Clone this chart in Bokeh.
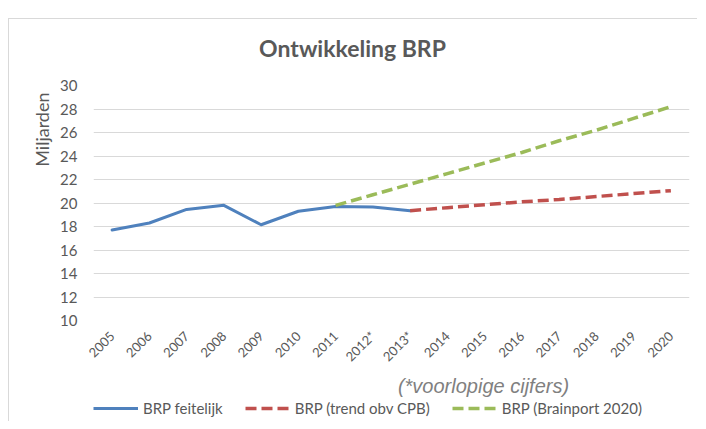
import math
from bokeh.plotting import figure
from bokeh.layouts import column
from bokeh.models import (FactorRange, Range1d, FixedTicker, Legend, LegendItem, Title, Label)
from bokeh.embed import file_html
from bokeh.resources import INLINE

# ---- data ----
years = ["2005", "2006", "2007", "2008", "2009", "2010", "2011", "2012*", "2013*",
         "2014", "2015", "2016", "2017", "2018", "2019", "2020"]
actual_years = ["2005", "2006", "2007", "2008", "2009", "2010", "2011", "2012*", "2013*"]
actual_values = [17.7, 18.3, 19.45, 19.8, 18.15, 19.3, 19.7, 19.65, 19.35]
trend_years = ["2013*", "2014", "2015", "2016", "2017", "2018", "2019", "2020"]
trend_values = [19.35, 19.6, 19.85, 20.1, 20.3, 20.55, 20.8, 21.05]
brainport_years = ["2011", "2012*", "2013*", "2014", "2015", "2016", "2017", "2018", "2019", "2020"]
brainport_values = [19.8, 20.7, 21.6, 22.5, 23.4, 24.3, 25.3, 26.2, 27.2, 28.2]
y_ticks = [10, 12, 14, 16, 18, 20, 22, 24, 26, 28, 30]

title_text = "Ontwikkeling BRP"
y_label = "Miljarden"
note_text = "(*voorlopige cijfers)"
series_names = ["BRP feitelijk", "BRP (trend obv CPB)", "BRP (Brainport 2020)"]

FONT = "Lato"
GRAY = "#595959"
COLORS = ["#4f81bd", "#c0504d", "#9bbb59"]
W = 688
NAN = float("nan")


def blank(height):
    f = figure(width=W, height=height, x_range=Range1d(0, 1), y_range=Range1d(0, 1),
               output_backend="svg", toolbar_location=None,
               min_border_left=0, min_border_right=0, min_border_top=0, min_border_bottom=0)
    f.axis.visible = False
    f.grid.visible = False
    f.outline_line_color = None
    f.border_fill_color = "white"
    f.background_fill_color = "white"
    return f


# ---- title strip (its frame lines up with the chart frame) ----
top = blank(56)
top.add_layout(Label(x=259, y=28, x_units="screen", y_units="screen", text=title_text,
                     text_font=FONT, text_font_size="23px", text_font_style="bold",
                     text_color=GRAY, text_align="center", text_baseline="middle"))

# ---- main chart ----
p = figure(width=W, height=298, x_range=FactorRange(*years, range_padding=0),
           y_range=Range1d(10, 30), output_backend="svg", toolbar_location=None,
           min_border_left=84, min_border_right=8, min_border_top=10, min_border_bottom=53)
p.outline_line_color = None
p.background_fill_color = "white"
p.border_fill_color = "white"
p.xgrid.grid_line_color = None
p.ygrid.grid_line_color = "#d9d9d9"
p.ygrid.grid_line_width = 1

p.yaxis.ticker = FixedTicker(ticks=y_ticks)
for ax in (p.xaxis[0], p.yaxis[0]):
    ax.axis_line_color = None
    ax.major_tick_line_color = None
    ax.minor_tick_line_color = None
    ax.major_label_text_color = GRAY
    ax.major_label_text_font = FONT
p.yaxis.major_label_text_font_size = "15px"
p.yaxis.major_label_standoff = 10
p.xaxis.major_label_text_font_size = "13px"
p.xaxis.major_label_orientation = math.pi / 4
p.xaxis.major_label_standoff = 7

p.line(actual_years, actual_values, line_color=COLORS[0], line_width=3,
       line_join="round", line_cap="round")
p.line(trend_years, trend_values, line_color=COLORS[1], line_width=3.5, line_dash="11 5")
p.line(brainport_years, brainport_values, line_color=COLORS[2], line_width=3.5,
       line_dash="11 5")

p.add_layout(Title(text=y_label, align="right", offset=7, text_font=FONT,
                   text_font_size="18px", text_font_style="normal", text_color=GRAY), "left")

# ---- note + legend strip ----
bot = blank(48)
bot.add_layout(Label(x=390, y=36, x_units="screen", y_units="screen", text=note_text,
                     text_font="Liberation Sans", text_font_size="20px",
                     text_font_style="italic", text_color="#808080",
                     text_align="center", text_baseline="middle"))
# legend proxies (one non-drawable point each) carrying the three series styles
l0 = bot.line([NAN], [NAN], line_color=COLORS[0], line_width=3)
l1 = bot.line([NAN], [NAN], line_color=COLORS[1], line_width=3.5, line_dash="11 5")
l2 = bot.line([NAN], [NAN], line_color=COLORS[2], line_width=3.5, line_dash="11 5")
legend = Legend(items=[LegendItem(label=series_names[0], renderers=[l0]),
                       LegendItem(label=series_names[1], renderers=[l1]),
                       LegendItem(label=series_names[2], renderers=[l2])],
                orientation="horizontal", location=(0, 3),
                glyph_width=45, glyph_height=20, label_standoff=5, spacing=22,
                padding=0, margin=0, border_line_color=None, background_fill_alpha=0,
                label_text_font=FONT, label_text_font_size="15px", label_text_color=GRAY)
bot.add_layout(legend, "center")

layout = column(top, p, bot, spacing=0)
layout.styles = {"margin-top": "18px", "margin-left": "8px",
                 "border-top": "1px solid #d9d9d9", "border-left": "1px solid #d9d9d9"}

open("out.html", "w").write(file_html(layout, INLINE))
